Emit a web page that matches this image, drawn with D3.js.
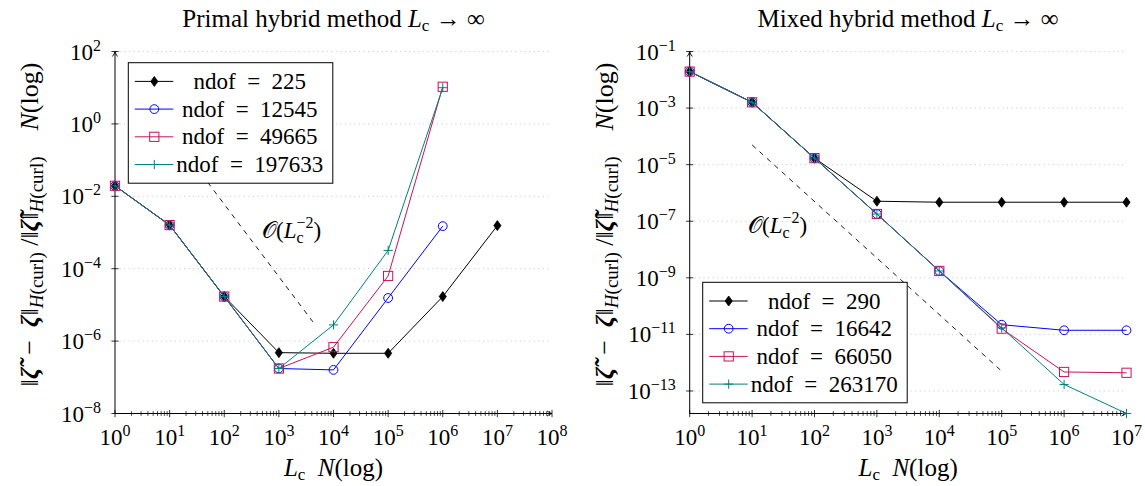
<!DOCTYPE html>
<html><head><meta charset="utf-8">
<script src="https://cdn.jsdelivr.net/npm/d3@7"></script>
<style>
body{margin:0;background:#fff}
svg{display:block}
text{font-family:"Liberation Serif","Times New Roman",serif;fill:#000}
</style>
</head><body>
<svg id="chart" width="1145" height="486" font-family="Liberation Serif, serif"></svg>
<script>
// ---------- data ----------
const lcValues = [1, 10, 100, 1e3, 1e4, 1e5, 1e6, 1e7];

const primalNdof = ["225", "12545", "49665", "197633"];
const primal225    = [1.95e-2, 1.6e-3, 1.7e-5, 4.8e-7, 4.6e-7, 4.6e-7, 1.7e-5, 1.55e-3];
const primal12545  = [1.95e-2, 1.6e-3, 1.7e-5, 1.75e-7, 1.6e-7, 1.55e-5, 1.5e-3];
const primal49665  = [1.95e-2, 1.6e-3, 1.7e-5, 1.75e-7, 6.8e-7, 6.3e-5, 10.6];
const primal197633 = [1.95e-2, 1.6e-3, 1.7e-5, 1.75e-7, 2.8e-6, 3.2e-4, 10.0];

const mixedNdof = ["290", "16642", "66050", "263170"];
const mixed290    = [1.95e-2, 1.6e-3, 1.7e-5, 5.1e-7, 4.7e-7, 4.7e-7, 4.7e-7, 4.7e-7];
const mixed16642  = [1.95e-2, 1.6e-3, 1.7e-5, 1.8e-7, 1.75e-9, 2.2e-11, 1.4e-11, 1.4e-11];
const mixed66050  = [1.95e-2, 1.6e-3, 1.7e-5, 1.8e-7, 1.75e-9, 1.6e-11, 4.7e-13, 4.4e-13];
const mixed263170 = [1.95e-2, 1.6e-3, 1.7e-5, 1.8e-7, 1.75e-9, 1.7e-11, 1.7e-13, 1.6e-14];

const primalXExp = [0, 1, 2, 3, 4, 5, 6, 7, 8];
const primalYExp = [2, 0, -2, -4, -6, -8];
const mixedXExp = [0, 1, 2, 3, 4, 5, 6, 7];
const mixedYExp = [-1, -3, -5, -7, -9, -11, -13];

// reference slope O(Lc^-2)
const refPrimalX = [30, 4200];
const refPrimalY = [6.7e-2, 3.4e-6];
const refMixedX = [10, 1e5];
const refMixedY = [5e-5, 5e-13];

// ---------- styles ----------
const seriesColors = ["#000000", "#0000ff", "#cc1155", "#008080"];
const seriesMarks = ["diamond", "circle", "square", "plus"];

const svg = d3.select("#chart");

function richText(sel, segs) {
  let cur = 0, prev = null;
  segs.forEach(s => {
    const ts = sel.append("tspan").text(s.t);
    const shift = s.shift || 0;
    if (shift - cur !== 0) ts.attr("dy", shift - cur);
    cur = shift;
    if (s.size) ts.attr("font-size", s.size);
    if (s.italic) ts.attr("font-style", "italic");
    if (s.bold) ts.attr("font-weight", "bold");
    if (s.back && prev) ts.attr("dx", -prev.node().getComputedTextLength());
    prev = ts;
  });
}

function drawMarker(g, type, x, y, color) {
  if (type === "diamond") {
    g.append("path").attr("d", `M${x},${y-5}L${x+3.6},${y}L${x},${y+5}L${x-3.6},${y}Z`)
      .attr("fill", color).attr("stroke", color).attr("stroke-width", 0.8);
  } else if (type === "circle") {
    g.append("circle").attr("cx", x).attr("cy", y).attr("r", 4.4)
      .attr("fill", "none").attr("stroke", color).attr("stroke-width", 1);
  } else if (type === "square") {
    g.append("rect").attr("x", x-4.6).attr("y", y-4.6).attr("width", 9.2).attr("height", 9.2)
      .attr("fill", "none").attr("stroke", color).attr("stroke-width", 1);
  } else {
    g.append("path").attr("d", `M${x-4.6},${y}H${x+4.6}M${x},${y-4.6}V${y+4.6}`)
      .attr("fill", "none").attr("stroke", color).attr("stroke-width", 1);
  }
}

function drawPanel(cfg) {
  const x = d3.scaleLog().domain(cfg.xDomain).range(cfg.xRange);
  const y = d3.scaleLog().domain(cfg.yDomain).range(cfg.yRange);
  const g = svg.append("g");
  const x0 = cfg.xRange[0], x1 = cfg.xRange[1];
  const y0 = cfg.yRange[0], y1 = cfg.yRange[1];

  // grid
  cfg.yExp.forEach(e => {
    const yy = y(Math.pow(10, e));
    g.append("line").attr("x1", x0).attr("x2", x1).attr("y1", yy).attr("y2", yy)
      .attr("stroke", "#bdbdbd").attr("stroke-width", 0.9).attr("stroke-dasharray", "1,3.6");
  });

  // x ticks (major + minor)
  cfg.xExp.forEach(e => {
    const v = Math.pow(10, e);
    const xx = x(v);
    g.append("line").attr("x1", xx).attr("x2", xx).attr("y1", y0-3.6).attr("y2", y0+3.6)
      .attr("stroke", "#000").attr("stroke-width", 0.8);
    if (e < cfg.xExp[cfg.xExp.length-1]) {
      for (let m = 2; m <= 9; m++) {
        const xm = x(m * v);
        g.append("line").attr("x1", xm).attr("x2", xm).attr("y1", y0-2.4).attr("y2", y0+2.4)
          .attr("stroke", "#000").attr("stroke-width", 0.7);
      }
    }
    const t = g.append("text").attr("x", xx).attr("y", 445).attr("text-anchor", "middle")
      .attr("font-size", 23);
    richText(t, [{t: "10"}, {t: String(e).replace("-", "\u2212"), size: 16, shift: -9}]);
  });

  // y ticks
  cfg.yExp.forEach(e => {
    const yy = y(Math.pow(10, e));
    g.append("line").attr("x1", x0-3.6).attr("x2", x0+3.6).attr("y1", yy).attr("y2", yy)
      .attr("stroke", "#000").attr("stroke-width", 0.8);
    const t = g.append("text").attr("x", x0-14).attr("y", yy+8).attr("text-anchor", "end")
      .attr("font-size", 23);
    richText(t, [{t: "10"}, {t: String(e).replace("-", "\u2212"), size: 16, shift: -9}]);
  });

  // axis lines with arrows
  g.append("line").attr("x1", x0).attr("x2", x1).attr("y1", y0).attr("y2", y0)
    .attr("stroke", "#000").attr("stroke-width", 1);
  g.append("line").attr("x1", x0).attr("x2", x0).attr("y1", y0).attr("y2", y1)
    .attr("stroke", "#000").attr("stroke-width", 1);
  g.append("path").attr("d", `M${x1-5},${y0-2.6}Q${x1-2.5},${y0-0.5} ${x1},${y0}Q${x1-2.5},${y0+0.5} ${x1-5},${y0+2.6}`)
    .attr("fill", "none").attr("stroke", "#000").attr("stroke-width", 0.9);
  g.append("path").attr("d", `M${x0-2.6},${y1+5}Q${x0-0.5},${y1+2.5} ${x0},${y1}Q${x0+0.5},${y1+2.5} ${x0+2.6},${y1+5}`)
    .attr("fill", "none").attr("stroke", "#000").attr("stroke-width", 0.9);

  // reference dashed line
  const refPts = cfg.refX.map((v, i) => [x(v), y(cfg.refY[i])]);
  g.append("path").attr("d", d3.line()(refPts)).attr("fill", "none")
    .attr("stroke", "#000").attr("stroke-width", 0.9).attr("stroke-dasharray", "5,5");

  // series
  const line = d3.line().x(d => x(d[0])).y(d => y(d[1]));
  cfg.series.forEach((vals, i) => {
    const pts = vals.map((v, j) => [lcValues[j], v]);
    g.append("path").attr("d", line(pts)).attr("fill", "none")
      .attr("stroke", seriesColors[i]).attr("stroke-width", 1);
    pts.forEach(p => drawMarker(g, seriesMarks[i], x(p[0]), y(p[1]), seriesColors[i]));
  });

  // annotation
  const at = g.append("text").attr("x", cfg.annot[0]).attr("y", cfg.annot[1])
    .attr("font-size", 23);
  richText(at, [{t: "\u{1D4AA}("}, {t: "L", italic: true}, {t: "c", size: 16, shift: 5},
    {t: "\u22122", size: 16, shift: -10, back: true}, {t: ")", shift: 0}]);

  // legend
  const lx = cfg.legend[0], ly = cfg.legend[1];
  g.append("rect").attr("x", lx).attr("y", ly).attr("width", 204.5).attr("height", 120.5)
    .attr("fill", "#fff").attr("stroke", "#000").attr("stroke-width", 1);
  cfg.ndof.forEach((n, i) => {
    const ry = ly + 18.7 + i * 27.7;
    g.append("line").attr("x1", lx+6.5).attr("x2", lx+45).attr("y1", ry).attr("y2", ry)
      .attr("stroke", seriesColors[i]).attr("stroke-width", 1);
    drawMarker(g, seriesMarks[i], lx+26, ry, seriesColors[i]);
    g.append("text").attr("x", lx+121.5).attr("y", ry+7.5).attr("text-anchor", "middle")
      .attr("font-size", 23).text("ndof\u2002=\u2002" + n);
  });

  // title
  const cx = (x0 + x1) / 2;
  const tt = g.append("text").attr("x", cx).attr("y", 27).attr("text-anchor", "middle")
    .attr("font-size", 25);
  richText(tt, [{t: cfg.title + " "}, {t: "L", italic: true}, {t: "c", size: 17, shift: 4},
    {t: " \u2192 \u221E", shift: 0}]);

  // x label
  const xl = g.append("text").attr("x", cx).attr("y", 476).attr("text-anchor", "middle")
    .attr("font-size", 25);
  richText(xl, [{t: "L", italic: true}, {t: "c", size: 17, shift: 4}, {t: "\u2002", shift: 0},
    {t: "N", italic: true}, {t: "(log)"}]);

  // y label
  const yl = g.append("text").attr("transform", `translate(${cfg.ylabelX},${(y0+y1)/2 - 8}) rotate(-90)`)
    .attr("text-anchor", "middle").attr("font-size", 26);
  richText(yl, [
    {t: "\u2016"}, {t: "\u03B6\u0303", bold: true, italic: true}, {t: "\u2002\u2212\u2002"},
    {t: "\u03B6", bold: true, italic: true}, {t: "\u2016"},
    {t: "H", italic: true, size: 19, shift: 5}, {t: "(curl)", size: 19, shift: 5},
    {t: " /\u2016", shift: 0}, {t: "\u03B6\u0303", bold: true, italic: true}, {t: "\u2016"},
    {t: "H", italic: true, size: 19, shift: 5}, {t: "(curl)", size: 19, shift: 5},
    {t: "\u2003", shift: 0}, {t: "N", italic: true}, {t: "(log)"}
  ]);
}

drawPanel({
  title: "Primal hybrid method",
  xDomain: [1, 1e8], yDomain: [1e-8, 1e2],
  xRange: [115, 552], yRange: [413.5, 51.5],
  xExp: primalXExp, yExp: primalYExp,
  series: [primal225, primal12545, primal49665, primal197633],
  ndof: primalNdof,
  refX: refPrimalX, refY: refPrimalY,
  annot: [262, 238],
  legend: [128.3, 62.7],
  ylabelX: 38
});

drawPanel({
  title: "Mixed hybrid method",
  xDomain: [1, 1e7], yDomain: [1.6e-14, 1e-1],
  xRange: [689.7, 1126.5], yRange: [413.5, 51.5],
  xExp: mixedXExp, yExp: mixedYExp,
  series: [mixed290, mixed16642, mixed66050, mixed263170],
  ndof: mixedNdof,
  refX: refMixedX, refY: refMixedY,
  annot: [748, 233],
  legend: [702.7, 282.3],
  ylabelX: 613
});
</script>
</body></html>
